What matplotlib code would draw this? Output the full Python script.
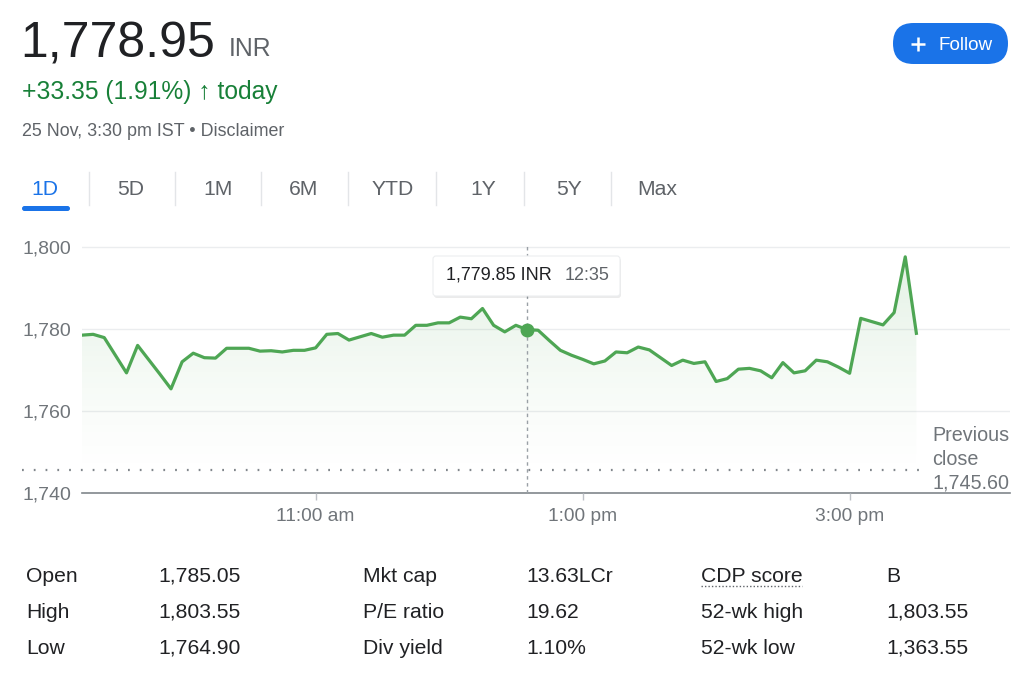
import numpy as np
import matplotlib.pyplot as plt
from matplotlib.patches import FancyBboxPatch

plt.rcParams['font.family'] = ['Liberation Sans', 'DejaVu Sans']

# 5-minute prices, 9:15 to 15:30
prices = [1778.5, 1778.7, 1777.9, 1773.6, 1769.3, 1776.0, 1772.5, 1769.0, 1765.4, 1772.0,
          1774.1, 1773.0, 1772.9, 1775.3, 1775.3, 1775.3, 1774.6, 1774.7, 1774.4, 1774.8,
          1774.8, 1775.4, 1778.7, 1778.9, 1777.3, 1778.1, 1778.9, 1778.0, 1778.5, 1778.5,
          1780.9, 1780.9, 1781.5, 1781.5, 1782.9, 1782.5, 1785.0, 1780.9, 1779.3, 1780.9,
          1779.85, 1779.7, 1777.2, 1774.8, 1773.6, 1772.6, 1771.5, 1772.2, 1774.4, 1774.2,
          1775.6, 1774.9, 1773.0, 1771.1, 1772.4, 1771.6, 1772.0, 1767.2, 1767.9, 1770.2,
          1770.4, 1769.8, 1768.1, 1771.8, 1769.3, 1769.8, 1772.4, 1772.0, 1770.7, 1769.2,
          1782.6, 1781.8, 1781.0, 1784.0, 1797.6, 1778.95]
minutes = np.arange(len(prices)) * 5  # minutes after 9:15
prev_close = 1745.60
hover_min, hover_price = 200, 1779.85

yticks = [1740, 1760, 1780, 1800]
xtick_min = [105, 225, 345]
xtick_labels = ['11:00 am', '1:00 pm', '3:00 pm']
tabs = ['1D', '5D', '1M', '6M', 'YTD', '1Y', '5Y', 'Max']
stat_labels = [['Open', 'High', 'Low'], ['Mkt cap', 'P/E ratio', 'Div yield'],
               ['CDP score', '52-wk high', '52-wk low']]
stat_values = [['1,785.05', '1,803.55', '1,764.90'], ['13.63LCr', '19.62', '1.10%'],
               ['B', '1,803.55', '1,363.55']]

W, H = 1024, 689
fig = plt.figure(figsize=(W / 100, H / 100), dpi=100)
green = '#4ea654'
grey = '#70757a'
dark = '#202124'

# chart area
L, R, T, B = 82, 1010, 240, 493
ax = fig.add_axes([L / W, 1 - B / H, (R - L) / W, (B - T) / H])
ymin = 1740
ymax = 1740 + (B - T) / 4.1
xmax = (R - L) / 2.225
ax.set_xlim(0, xmax)
ax.set_ylim(ymin, ymax)
for s in ax.spines.values():
    s.set_visible(False)

for yv in yticks[1:]:
    ax.axhline(yv, color='#ebedef', lw=1, zorder=0)
ax.axhline(ymin, color='#80868b', lw=1.2, zorder=1, clip_on=False)

ax.set_yticks(yticks)
ax.set_yticklabels([f'{v:,}' for v in yticks])
ax.tick_params(axis='y', length=0, pad=8, labelsize=14, labelcolor=grey)
ax.set_xticks(xtick_min)
ax.set_xticklabels(xtick_labels)
ax.tick_params(axis='x', length=5, width=1, color='#bdc1c6', pad=6, labelsize=13.8,
               labelcolor=grey)

# gradient fill under line
poly = ax.fill_between(minutes, prices, ymin, color='none', lw=0)
vals = np.linspace(ymax, ymin, 256)
alpha = 0.17 * np.clip((vals - 1744) / (ymax - 1744), 0, 1) ** 1.3
img = np.zeros((256, 1, 4))
img[:, 0, 0] = 0.30
img[:, 0, 1] = 0.65
img[:, 0, 2] = 0.33
img[:, 0, 3] = alpha
im = ax.imshow(img, extent=[0, minutes[-1], ymin, ymax], aspect='auto', zorder=1)
im.set_clip_path(poly.get_paths()[0], transform=ax.transData)

ax.plot(minutes, prices, color=green, lw=2.3, zorder=3, solid_joinstyle='round')

ax.plot([-27, 379], [prev_close, prev_close], color='#80868b', lw=1.6,
        linestyle=(0, (0.8, 4.5)), clip_on=False, zorder=2)
ax.plot([hover_min, hover_min], [ymin, 1800.3], color='#9aa0a6', lw=1,
        linestyle=(0, (2.5, 2.5)), zorder=2)
ax.plot(hover_min, hover_price, 'o', color=green, ms=9, zorder=4)

for k, line in enumerate(['Previous', 'close', f'{prev_close:,.2f}']):
    ax.text((932 - L) / 2.225, 1740 + (B - 441 - 24 * k) / 4.1, line,
            fontsize=14.2, color=grey, va='baseline', ha='left')

# ui overlay in pixel coordinates
ui = fig.add_axes([0, 0, 1, 1], zorder=5)
ui.set_xlim(0, W)
ui.set_ylim(H, 0)
ui.axis('off')
ui.patch.set_alpha(0)

ui.text(20, 57, '1,778.95', fontsize=36, color=dark, va='baseline')
ui.text(229, 56, 'INR', fontsize=17.8, color='#5f6368', va='baseline')
ui.text(22, 99, '+33.35 (1.91%) \u2191 today', fontsize=17.7, color='#188038',
        va='baseline')
ui.text(22, 136, '25 Nov, 3:30 pm IST \u2022 Disclaimer', fontsize=12.9, color='#5f6368',
        va='baseline')

# follow button
ui.add_patch(FancyBboxPatch((893, 23), 115, 41, boxstyle='round,pad=0,rounding_size=20.5',
                            fc='#1a73e8', ec='none'))
ui.plot([911, 925], [44, 44], color='white', lw=1.8, solid_capstyle='butt')
ui.plot([918, 918], [37, 51], color='white', lw=1.8, solid_capstyle='butt')
ui.text(938, 50, 'Follow', fontsize=13.6, color='white', va='baseline', ha='left')

# tabs
tab_x = [45, 131, 218, 304, 393, 483, 569, 657]
for i, (t, tx) in enumerate(zip(tabs, tab_x)):
    ui.text(tx, 195, t, fontsize=15.2, color='#1a73e8' if i == 0 else '#5f6368',
            ha='center', va='baseline')
for sx in [88.5, 175, 261, 348, 436, 524, 611]:
    ui.plot([sx, sx], [172, 205], color='#e3e5e8', lw=1)
ui.add_patch(FancyBboxPatch((22, 206), 48, 5, boxstyle='round,pad=0,rounding_size=2.5',
                            fc='#1a73e8', ec='none'))

# tooltip
ui.add_patch(FancyBboxPatch((434, 258), 187, 40, boxstyle='round,pad=0,rounding_size=3',
                            fc='#000000', ec='none', alpha=0.08))
ui.add_patch(FancyBboxPatch((433, 256), 187, 40, boxstyle='round,pad=0,rounding_size=3',
                            fc='white', ec='#eceef0', lw=0.8))
ui.text(446, 280, '1,779.85 INR', fontsize=13, color=dark, va='baseline')
ui.text(565, 280, '12:35', fontsize=13, color='#5f6368', va='baseline')

# stats table
col_lab = [26, 363, 701]
col_val = [158, 526, 886]
row_base = [582, 618, 654]
for c in range(3):
    for r in range(3):
        ui.text(col_lab[c], row_base[r], stat_labels[c][r], fontsize=15.2, color=dark,
                va='baseline')
        ui.text(col_val[c], row_base[r], stat_values[c][r], fontsize=15.2, color=dark,
                va='baseline')
ui.plot([701, 802], [586, 586], color='#5f6368', lw=1, linestyle=(0, (1, 1.5)))

fig.savefig('out.png', dpi=100)
